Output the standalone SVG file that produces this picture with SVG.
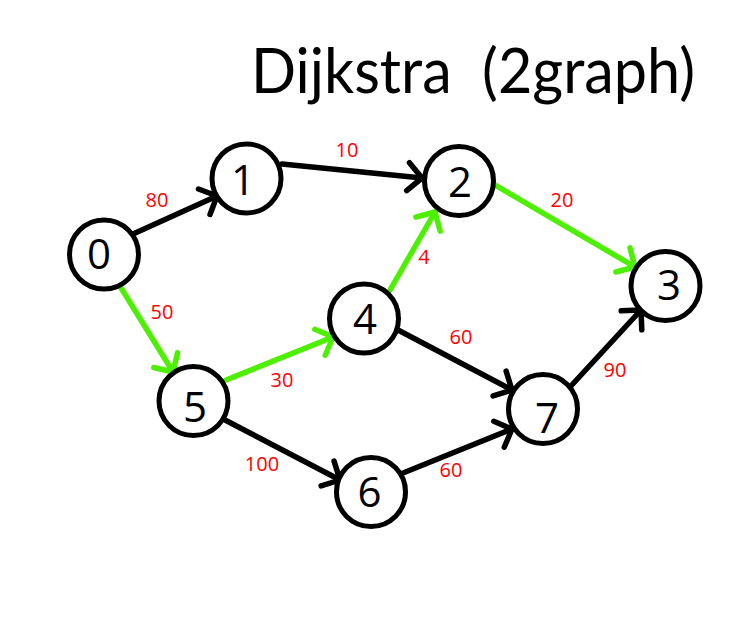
<svg xmlns="http://www.w3.org/2000/svg" width="730" height="628" viewBox="0 0 730 628">
<style>
.node circle{fill:#fff;stroke:#000;stroke-width:5}
.node text{font-family:"Open Sans","Liberation Sans",sans-serif;font-size:42px;fill:#000;text-anchor:middle}
.e{fill:none;stroke-width:5.5;stroke-linecap:round}
.k{stroke:#000;marker-end:url(#ak)}
.g{stroke:#4DF000;marker-end:url(#ag)}
.lbl{font-family:"Open Sans","Liberation Sans",sans-serif;font-size:20px;fill:#FF0000;text-anchor:middle}
.title{font-family:Lato,"Open Sans",sans-serif;font-size:62px;fill:#000}
</style>
<defs>
<marker id="ak" markerUnits="userSpaceOnUse" viewBox="-25 -25 50 50" markerWidth="50" markerHeight="50" refX="0" refY="0" orient="auto">
<path d="M-14,-14 L0,0 L-14,14" fill="none" stroke="#000" stroke-width="5.5" stroke-linecap="round" stroke-linejoin="round"/>
</marker>
<marker id="ag" markerUnits="userSpaceOnUse" viewBox="-25 -25 50 50" markerWidth="50" markerHeight="50" refX="0" refY="0" orient="auto">
<path d="M-14,-14 L0,0 L-14,14" fill="none" stroke="#4DF000" stroke-width="5.5" stroke-linecap="round" stroke-linejoin="round"/>
</marker>
</defs>
<rect width="730" height="628" fill="#fff"/>
<text class="title" x="251" y="93" textLength="444" lengthAdjust="spacingAndGlyphs" xml:space="preserve">Dijkstra  (2graph)</text>
<g id="connectors">
<line class="e k" x1="133" y1="234" x2="217" y2="196"/>
<line class="e k" x1="282" y1="164" x2="422" y2="178"/>
<line class="e g" x1="495" y1="185" x2="635" y2="267"/>
<line class="e g" x1="118" y1="283" x2="173" y2="372"/>
<line class="e g" x1="226" y1="380" x2="333" y2="337"/>
<line class="e g" x1="390" y1="290" x2="435" y2="212"/>
<line class="e k" x1="398" y1="330" x2="512" y2="390"/>
<line class="e k" x1="225" y1="420" x2="340" y2="480"/>
<line class="e k" x1="403" y1="473" x2="512" y2="429"/>
<line class="e k" x1="570" y1="387" x2="641" y2="310"/>
</g>
<g id="edge-labels">
<text class="lbl" x="157" y="207">80</text>
<text class="lbl" x="347" y="157">10</text>
<text class="lbl" x="562" y="207">20</text>
<text class="lbl" x="162" y="319">50</text>
<text class="lbl" x="282" y="387">30</text>
<text class="lbl" x="424" y="264">4</text>
<text class="lbl" x="461" y="344">60</text>
<text class="lbl" x="262" y="471">100</text>
<text class="lbl" x="451" y="477">60</text>
<text class="lbl" x="615" y="377">90</text>
</g>
<g id="node0" class="node"><circle cx="104" cy="254.5" r="34.5"/><text x="99" y="269">0</text></g>
<g id="node1" class="node"><circle cx="246.5" cy="178.5" r="34.5"/><text x="243" y="195">1</text></g>
<g id="node2" class="node"><circle cx="459" cy="181" r="34.5"/><text x="460" y="197">2</text></g>
<g id="node3" class="node"><circle cx="665.5" cy="286" r="34.5"/><text x="669" y="300">3</text></g>
<g id="node4" class="node"><circle cx="364" cy="318.5" r="34.5"/><text x="365" y="334">4</text></g>
<g id="node5" class="node"><circle cx="193.5" cy="401" r="34.5"/><text x="195" y="422">5</text></g>
<g id="node6" class="node"><circle cx="371" cy="492" r="34.5"/><text x="369.5" y="507">6</text></g>
<g id="node7" class="node"><circle cx="543" cy="409" r="34.5"/><text x="547" y="433">7</text></g>
</svg>
